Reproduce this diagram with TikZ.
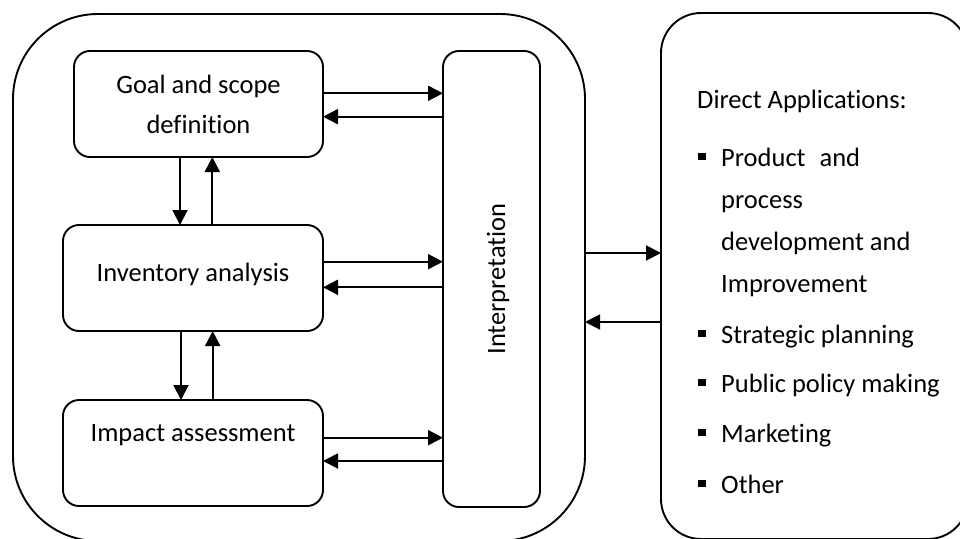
\documentclass[tikz,border=0pt]{standalone}
\usepackage{fontspec}
\setmainfont{Carlito}[Ligatures=CommonOff]
\usetikzlibrary{arrows.meta,calc}
\newcommand\mybul{\rule[6pt]{8pt}{7.5pt}\hspace{15pt}}
\begin{document}
\begin{tikzpicture}[x=1pt,y=-1pt,
  lw/.style={line width=1.9pt},
  bigbox/.style={draw,lw,rectangle,inner sep=0pt,outer sep=0pt},
  stagebox/.style={draw,lw,rectangle,rounded corners=16pt,inner sep=0pt,outer sep=0pt,
    minimum width=260pt,minimum height=106pt,font=\fontsize{26.5pt}{40pt}\selectfont,align=center},
  arr/.style={lw,-{Triangle[length=15pt,width=15pt]}},
  txt/.style={font=\fontsize{26.5pt}{40pt}\selectfont,inner sep=0pt,anchor=base west}
]
\useasboundingbox (0,0) rectangle (960,538);
\clip (0,0) rectangle (960,538);

% big containers
\node[bigbox,rounded corners=85pt,minimum width=572pt,minimum height=527pt] (lca) at (299,277.5) {};
\node[bigbox,rounded corners=40pt,minimum width=307pt,minimum height=526pt] (apps) at (814.5,276) {};

% stages
\node[stagebox,minimum width=249pt] (goal) at (198.5,104) {Goal and scope\\definition};
\node[stagebox,text height=20pt,text depth=14pt] (inv) at (193,278) {Inventory analysis};
\node[stagebox,text height=20pt,text depth=44pt] (imp) at (193,453) {Impact assessment};
\node[bigbox,rounded corners=16pt,minimum width=97pt,minimum height=456pt] (interp) at (491.5,279) {};
\node[rotate=90,anchor=base,inner sep=0pt,font=\fontsize{26.5pt}{40pt}\selectfont] (interptxt)
  at ([xshift=13.5pt]interp.center) {Interpretation};

% horizontal arrows stage <-> interpretation
\coordinate (g1) at ([yshift=10.7pt]goal.east);
\coordinate (g2) at ([yshift=-12.7pt]goal.east);
\coordinate (i1) at ([yshift=16.3pt]inv.east);
\coordinate (i2) at ([yshift=-9.3pt]inv.east);
\coordinate (m1) at ([yshift=15.3pt]imp.east);
\coordinate (m2) at ([yshift=-8pt]imp.east);
\draw[arr] (g1) -- (g1 -| interp.west);
\draw[arr] (g2 -| interp.west) -- (g2);
\draw[arr] (i1) -- (i1 -| interp.west);
\draw[arr] (i2 -| interp.west) -- (i2);
\draw[arr] (m1) -- (m1 -| interp.west);
\draw[arr] (m2 -| interp.west) -- (m2);

% vertical arrows
\coordinate (d1) at ([xshift=-18.5pt]goal.south);
\coordinate (u1) at ([xshift=13.8pt]goal.south);
\coordinate (d2) at ([xshift=-12pt]inv.south);
\coordinate (u2) at ([xshift=19.7pt]inv.south);
\draw[arr] (d1) -- (d1 |- inv.north);
\draw[arr] (u1 |- inv.north) -- (u1);
\draw[arr] (d2) -- (d2 |- imp.north);
\draw[arr] (u2 |- imp.north) -- (u2);

% container <-> applications
\coordinate (o1) at ([yshift=24.5pt]lca.east);
\coordinate (o2) at ([yshift=-44.5pt]lca.east);
\draw[arr] (o1) -- (o1 -| apps.west);
\draw[arr] (o2 -| apps.west) -- (o2);

% applications text
\node[txt] (da) at (697,108) {Direct Applications:};
\node[txt] (b1) at (698,166) {\mybul Product\hspace{14pt}and};
\node[txt] (b1b) at (721,208) {process};
\node[txt] (b1c) at (721,250) {development and};
\node[txt] (b1d) at (721,292) {Improvement};
\node[txt] (b2) at (698,343) {\mybul Strategic planning};
\node[txt] (b3) at (698,392) {\mybul Public policy making};
\node[txt] (b4) at (698,442) {\mybul Marketing};
\node[txt] (b5) at (698,493) {\mybul Other};
\end{tikzpicture}
\end{document}
